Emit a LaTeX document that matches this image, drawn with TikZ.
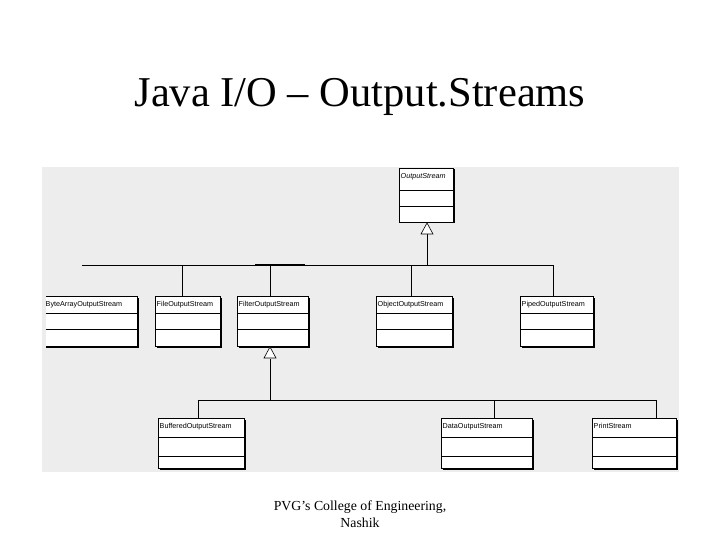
\documentclass[tikz,border=0pt]{standalone}
\usepackage{fontspec}
\setmainfont{Liberation Serif}
\newfontfamily\cls{Liberation Sans}
\begin{document}
\begin{tikzpicture}[x=1pt,y=-1pt,
  cbox/.style={draw=black,fill=white,line width=0.8pt},
  lbl/.style={font=\cls\fontsize{7.2}{8}\selectfont,anchor=north west,inner sep=0pt},
  ln/.style={line width=0.8pt},
  tri/.style={draw=black,fill=white,line width=0.6pt}]
\useasboundingbox (0,0) rectangle (720,540);
\fill[white] (0,0) rectangle (720,540);
\fill[black!7] (42,167) rectangle (679,472);
\node (title) at (360,97) {\fontsize{42.5}{48}\selectfont Java I/O – Output.Streams};
\node[align=center,font=\fontsize{13.8}{17}\selectfont] (foot) at (360,514) {PVG\char39 s College of Engineering,\\Nashik};
% class boxes: name, x1,y1,x2,div1,div2,y2, text
\newcommand\umlbox[8]{%
  \fill[black] (#2+1.5,#3+1.5) rectangle (#4+1.5,#7+1.5);
  \draw[cbox] (#2,#3) rectangle (#4,#7);
  \draw[ln] (#2,#5) -- (#4,#5) (#2,#6) -- (#4,#6);
  \node[lbl] (#1) at (#2+1.5,#3+5) {#8};
  \coordinate (#1top) at ({(#2+#4)/2},#3);}
\umlbox{os}{399}{168}{453}{190}{206}{222}{\itshape OutputStream}
\umlbox{ba}{44}{296}{137}{313}{329}{346}{ByteArrayOutputStream}
\umlbox{fo}{155}{296}{220}{313}{329}{346}{FileOutputStream}
\umlbox{fi}{237}{296}{308}{313}{329}{346}{FilterOutputStream}
\umlbox{ob}{376}{296}{452}{313}{329}{346}{ObjectOutputStream}
\umlbox{pi}{520}{296}{593}{313}{329}{346}{PipedOutputStream}
\umlbox{bu}{158}{418}{244}{437}{456}{468}{BufferedOutputStream}
\umlbox{da}{441}{418}{532}{437}{456}{468}{DataOutputStream}
\umlbox{pr}{592}{418}{676}{437}{456}{468}{PrintStream}
\fill[black!7] (42,290) rectangle (45.5,350);
% connectors
\coordinate (h1) at (427,265);
\draw[ln] (427,234) -- (h1);
\draw[tri] (427,223) -- (421,234) -- (433,234) -- cycle;
\draw[ln] (82,265) -- (553,265);
\draw[line width=1.8pt] (255,265) -- (305,265);
\draw[ln] (182,265) -- (182,296) (270,265) -- (270,296) (411,265) -- (411,296) (553,265) -- (553,296);
\draw[ln] (270,359) -- (270,400);
\draw[tri] (270,347) -- (264,358) -- (276,358) -- cycle;
\draw[ln] (198,400) -- (656,400);
\draw[ln] (198,400) -- (198,418) (494,400) -- (494,418) (656,400) -- (656,418);
\end{tikzpicture}
\end{document}
